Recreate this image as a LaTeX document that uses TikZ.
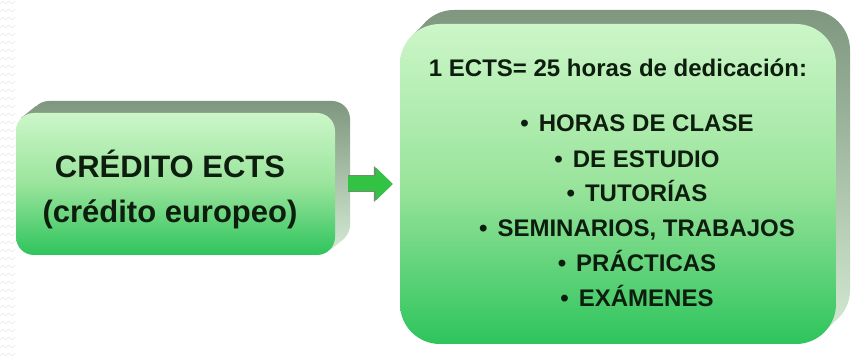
\documentclass[tikz,border=0pt]{standalone}
\usepackage{fontspec}
\setmainfont{Liberation Sans}
\usetikzlibrary{arrows.meta}

\definecolor{verdeclaro}{HTML}{CCF6C8}
\definecolor{verdemedio}{HTML}{9AE49C}
\definecolor{verdeoscuro}{HTML}{2EC45C}
\definecolor{biselarriba}{HTML}{7E977E}
\definecolor{biselabajo}{HTML}{D2E8D2}
\definecolor{texto}{HTML}{0E1E0E}
\definecolor{flechaverde}{HTML}{32C244}
\definecolor{flechaborde}{HTML}{6F8F70}
\definecolor{zigzag}{HTML}{E8E8E8}

\tikzset{
  cara/.style={rounded corners=#1, inner sep=0pt, top color=verdeclaro, bottom color=verdeoscuro, middle color=verdemedio},
  bisel/.style={rounded corners=#1, top color=biselarriba, bottom color=biselabajo},
  titulo/.style={anchor=base, text=texto, font=\fontsize{31}{31}\selectfont\bfseries},
  linea/.style={anchor=base, text=texto, font=\fontsize{24}{24}\selectfont\bfseries},
  flecha/.style={line width=15pt, flechaverde, -{Triangle[length=17pt,width=32pt]},
    preaction={draw=flechaborde, line width=17pt, -{Triangle[length=19pt,width=35pt]}}}
}

\begin{document}
\begin{tikzpicture}[x=1pt, y=1pt]
  \useasboundingbox (0,0) rectangle (852,356);
  \fill[white] (0,0) rectangle (852,356);

  % franja de fondo
  \foreach \y in {0,8,...,352}
    \draw[zigzag, thin] (0,\y) -- (3,\y+3) -- (6,\y) -- (9,\y+3) -- (12,\y) -- (15,\y+3);

  % caja izquierda
  \path[bisel=18pt] (31,113) rectangle (350,255)
    [sharp corners] (21,238) -- (36,250) -- (345,118) -- (330,106) -- cycle;
  \node[cara=18pt, minimum width=319pt, minimum height=142pt] (credito) at (175.5,172) {};
  \node[titulo] (nombre) at (170,178) {CRÉDITO ECTS};
  \node[titulo] (europeo) at (170,133) {(crédito europeo)};

  % caja derecha
  \path[bisel=40pt] (414,26) rectangle (850,346)
    [sharp corners] (412,320) -- (426,334) -- (838,38) -- (824,24) -- cycle;
  \node[cara=40pt, minimum width=436pt, minimum height=320pt] (horas) at (618,172) {};
  \node[linea] (dedicacion) at (618,279) {1 ECTS= 25 horas de dedicación:};
  \node[linea] (clase) at (637,224) {•\hspace{10pt}HORAS DE CLASE};
  \node[linea] (estudio) at (637,188) {•\hspace{10pt}DE ESTUDIO};
  \node[linea] (tutorias) at (637,154) {•\hspace{10pt}TUTORÍAS};
  \node[linea] (seminarios) at (637,119) {•\hspace{10pt}SEMINARIOS, TRABAJOS};
  \node[linea] (practicas) at (637,84) {•\hspace{10pt}PRÁCTICAS};
  \node[linea] (examenes) at (637,49) {•\hspace{10pt}EXÁMENES};

  % flecha
  \draw[flecha] ([xshift=13pt]credito.east) -- ([xshift=-7pt]horas.west);
\end{tikzpicture}
\end{document}
